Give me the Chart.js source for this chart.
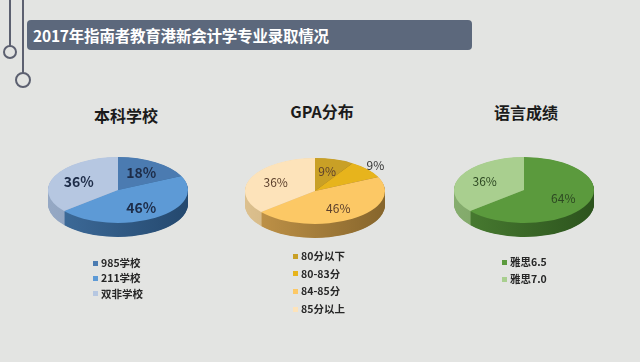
<!DOCTYPE html>
<html>
<head>
<meta charset="utf-8">
<script src="https://cdn.jsdelivr.net/npm/chart.js@4.4.1/dist/chart.umd.min.js"></script>
<style>
  body { margin: 0; width: 640px; height: 362px; background: #e3e4e2; position: relative; overflow: hidden;
         font-family: "Noto Sans CJK SC", "Noto Sans", sans-serif; }
  .bar { position: absolute; left: 27px; top: 20px; width: 445px; height: 30px; background: #5c687c; border-radius: 4px; }
  .bar span { position: absolute; left: 6px; top: 4px; color: #fff; font-weight: bold; font-size: 15.5px; line-height: 22px; white-space: nowrap; letter-spacing: -0.2px; }
  .ptitle { position: absolute; width: 160px; margin-left: -80px; text-align: center; font-size: 16px; font-weight: bold; color: #1b1b1b; line-height: 20px; }
  .pie { position: absolute; }
  .legend { position: absolute; font-size: 10.5px; font-weight: bold; color: #262626; }
  .legend div { height: 14px; line-height: 14px; white-space: nowrap; position: relative; padding-left: 8px; }
  .legend i { position: absolute; left: 0; top: 4.5px; width: 5px; height: 5px; }
</style>
</head>
<body>
<svg width="40" height="100" style="position:absolute;left:0;top:0">
  <line x1="10" y1="0" x2="10" y2="46" stroke="#5c6070" stroke-width="2"/>
  <circle cx="10" cy="52" r="6" fill="none" stroke="#5c6070" stroke-width="2"/>
  <line x1="23" y1="0" x2="23" y2="73" stroke="#5c6070" stroke-width="2"/>
  <circle cx="23" cy="80" r="7" fill="none" stroke="#5c6070" stroke-width="2"/>
</svg>
<div class="bar"><span>2017年指南者教育港新会计学专业录取情况</span></div>

<script>
// data
const schoolLabels = ['985学校', '211学校', '双非学校'];
const schoolValues = [18, 46, 36];
const gpaLabels = ['80分以下', '80-83分', '84-85分', '85分以上'];
const gpaValues = [9, 9, 46, 36];
const langLabels = ['雅思6.5', '雅思7.0'];
const langValues = [64, 36];

const pies = [
  { title: '本科学校', labels: schoolLabels, values: schoolValues, cx: 118, cy: 190, tx: 126, ty: 105,
    colors: ['#4b7bb1', '#5d9ad6', '#b6c7e1'],
    sideL: ['#42709f', '#3f6d9c', '#95a8c4'], sideR: ['#24466b', '#24486e', '#7f93b2'],
    font: 'bold 14px "Noto Sans CJK SC"', fontColor: '#1d2c48', outside: [],
    lx: 93, ly: 256, rowH: 15.3 },
  { title: 'GPA分布', labels: gpaLabels, values: gpaValues, cx: 315, cy: 191, tx: 322, ty: 101,
    colors: ['#c9a026', '#e7b41c', '#fcc865', '#fde3ba'],
    sideL: ['#a07a20', '#b08420', '#c4964a', '#dcc08e'], sideR: ['#6e521c', '#7a5a1c', '#86652c', '#b89a6a'],
    font: '12px "Noto Sans CJK SC"', fontColor: '#5b3f2c', outside: [1],
    lx: 293, ly: 249, rowH: 17.7 },
  { title: '语言成绩', labels: langLabels, values: langValues, cx: 524, cy: 190, tx: 526, ty: 102,
    colors: ['#5b9a3d', '#a9cf8f'],
    sideL: ['#4a7e32', '#86ad6e'], sideR: ['#2c531d', '#6a9256'],
    font: '12px "Noto Sans CJK SC"', fontColor: '#2d4822', outside: [],
    lx: 502, ly: 255, rowH: 17 }
];

const RX = 70, RY = 33, DEPTH = 14;
const K = RY / RX;

// squash the pie into an ellipse and give it a side
const pie3d = {
  id: 'pie3d',
  beforeDatasetsDraw(chart, args, opts) {
    const ctx = chart.ctx;
    const arcs = chart.getDatasetMeta(0).data;
    const cy = arcs[0].y;
    ctx.save();
    ctx.translate(0, cy); ctx.scale(1, K); ctx.translate(0, -cy);
    const x0 = arcs[0].x - arcs[0].outerRadius, x1 = arcs[0].x + arcs[0].outerRadius;
    for (let d = DEPTH; d > 0; d -= 0.5) {
      ctx.save();
      ctx.translate(0, d / K);
      arcs.forEach((arc, i) => {
        const g = ctx.createLinearGradient(x0, 0, x1, 0);
        g.addColorStop(0, opts.sideL[i]);
        g.addColorStop(1, opts.sideR[i]);
        const orig = arc.options;
        arc.options = Object.assign({}, orig, { backgroundColor: g, borderWidth: 0 });
        arc.draw(ctx);
        arc.options = orig;
      });
      ctx.restore();
    }
  },
  afterDatasetsDraw(chart) {
    chart.ctx.restore();
  },
  afterDraw(chart, args, opts) {
    const ctx = chart.ctx;
    const arcs = chart.getDatasetMeta(0).data;
    const vals = chart.data.datasets[0].data;
    ctx.save();
    ctx.font = opts.font;
    ctx.textAlign = 'center';
    ctx.textBaseline = 'middle';
    arcs.forEach((arc, i) => {
      const out = opts.outside.includes(i);
      const mid = (arc.startAngle + arc.endAngle) / 2;
      const f = out ? 1.15 : 0.62;
      const x = arc.x + Math.cos(mid) * arc.outerRadius * f;
      const y = arc.y + Math.sin(mid) * arc.outerRadius * f * K;
      ctx.fillStyle = out ? '#333' : opts.fontColor;
      ctx.fillText(vals[i] + '%', x, y);
    });
    ctx.restore();
  }
};

pies.forEach(p => {
  const t = document.createElement('div');
  t.className = 'ptitle';
  t.style.left = p.tx + 'px';
  t.style.top = p.ty + 'px';
  t.textContent = p.title;
  document.body.appendChild(t);

  const c = document.createElement('canvas');
  c.className = 'pie';
  c.width = 160; c.height = 160;
  c.style.left = (p.cx - 80) + 'px';
  c.style.top = (p.cy - 80) + 'px';
  document.body.appendChild(c);

  new Chart(c, {
    type: 'pie',
    data: {
      labels: p.labels,
      datasets: [{ data: p.values, backgroundColor: p.colors, borderWidth: 0, clip: false }]
    },
    options: {
      responsive: false,
      animation: false,
      layout: { padding: 80 - RX },
      plugins: {
        legend: { display: false },
        tooltip: { enabled: false },
        pie3d: { sideL: p.sideL, sideR: p.sideR, font: p.font, fontColor: p.fontColor, outside: p.outside }
      }
    },
    plugins: [pie3d]
  });

  const lg = document.createElement('div');
  lg.className = 'legend';
  lg.style.left = p.lx + 'px';
  lg.style.top = p.ly + 'px';
  p.labels.forEach((name, i) => {
    const row = document.createElement('div');
    row.style.height = p.rowH + 'px';
    const m = document.createElement('i');
    m.style.background = p.colors[i];
    row.appendChild(m);
    row.appendChild(document.createTextNode(name));
    lg.appendChild(row);
  });
  document.body.appendChild(lg);
});
</script>
</body>
</html>
